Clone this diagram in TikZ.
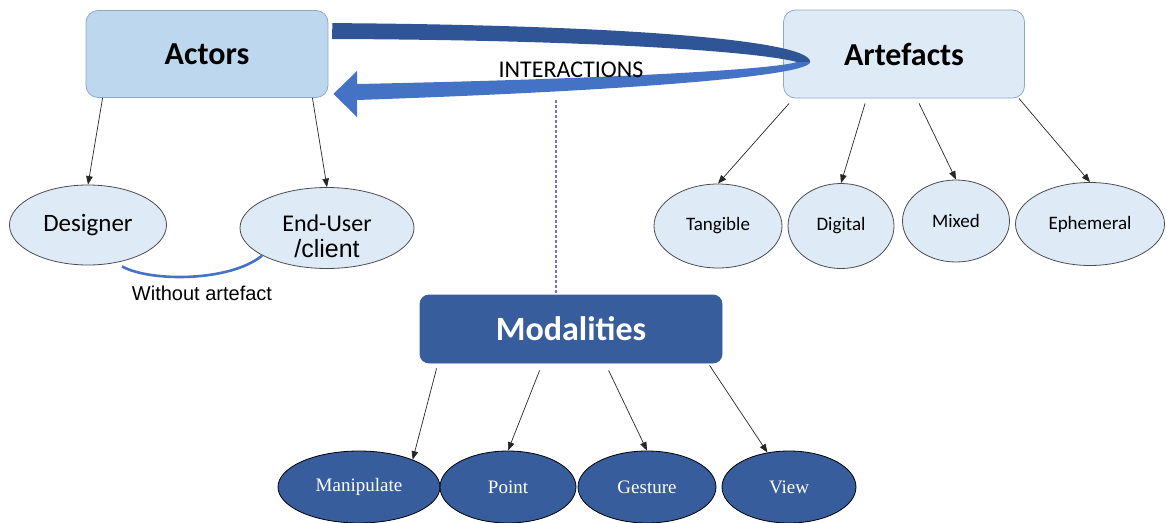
\documentclass[tikz,border=0pt]{standalone}
\usepackage{fontspec}
\setmainfont{Carlito}
\newfontfamily\arialfont{Liberation Sans}
\newfontfamily\timesfont{Liberation Serif}
\usepackage{xcolor}
\usetikzlibrary{arrows.meta,positioning,calc,shapes.geometric}
\definecolor{actfill}{HTML}{BDD7EE}
\definecolor{artfill}{HTML}{DEEBF7}
\definecolor{boxline}{HTML}{8EAACB}
\definecolor{moddark}{HTML}{385D9C}
\definecolor{banddark}{HTML}{2F5597}
\definecolor{bandlight}{HTML}{4472C4}
\definecolor{dashline}{HTML}{7070D8}

\begin{document}
\begin{tikzpicture}[x=1pt,y=-1pt,
	topbox/.style={draw=boxline,line width=0.8pt,rounded corners=12pt,inner sep=0pt,font=\fontsize{32}{38}\selectfont\bfseries},
	leaf/.style={ellipse,draw=black!70,fill=artfill,line width=0.8pt,inner sep=0pt,font=\fontsize{19}{23}\selectfont},
	modleaf/.style={ellipse,draw=black,fill=moddark,line width=0.8pt,inner sep=0pt,text=white,font=\timesfont\fontsize{19}{23}\selectfont},
	arr/.style={-{Triangle[length=8.5pt,width=6.5pt]},line width=0.7pt,black!85}]
	\useasboundingbox (0,0) rectangle (1167,522);
	
	% main boxes
	\node[topbox,fill=actfill,minimum width=242pt,minimum height=87pt] (actors) at (207,54) {Actors};
	\node[topbox,fill=artfill,minimum width=241pt,minimum height=88pt] (artefacts) at (904,54) {Artefacts};
	\node[topbox,draw=moddark,fill=moddark,text=white,rounded corners=9pt,minimum width=302pt,minimum height=68pt,font=\fontsize{34}{40}\selectfont\bfseries] (modalities) at (571,329) {Modalities};
	
	% actors
	\node[leaf,minimum width=157pt,minimum height=80pt,font=\fontsize{25}{29}\selectfont] (designer) at (88,225) {Designer};
	\node[leaf,minimum width=174pt,minimum height=81pt] (enduser) at (327,228) {};
	\node[align=center,inner sep=0pt] (enduserlabel) at (327,236) {\fontsize{24}{24}\selectfont End-User\\[7pt]{\arialfont\fontsize{25}{25}\selectfont /client}};
	
	% artefacts
	\node[leaf,minimum width=128pt,minimum height=84pt] (tangible) at (718,226) {Tangible};
	\node[leaf,minimum width=106pt,minimum height=85pt] (digital) at (841,226) {Digital};
	\node[leaf,minimum width=107pt,minimum height=82pt] (mixed) at (956,221) {Mixed};
	\node[leaf,minimum width=149pt,minimum height=83pt] (ephemeral) at (1090,224) {Ephemeral};
	
	% modalities
	\node[modleaf,minimum width=162pt,minimum height=72pt] (manipulate) at (359,487) {Manipulate};
	\node[modleaf,minimum width=136pt,minimum height=72pt] (point) at (508,487) {Point};
	\node[modleaf,minimum width=138pt,minimum height=72pt] (gesture) at (647,487) {Gesture};
	\node[modleaf,minimum width=134pt,minimum height=72pt] (view) at (789,487) {View};
	
	% interaction loop
	\coordinate (start) at ($(actors.north east)+(4,13)$);
	\coordinate (loop) at ($(artefacts.west)+(27,8)$);
	\coordinate (tip) at ($(actors.south east)+(5,-4)$);
	\fill[banddark] (start) .. controls (620,25) and (811,40) .. (loop) -- (797,62) .. controls (760,52) and (600,40) .. (332,39) -- cycle;
	\fill[bandlight] (loop) .. controls (810,75) and (650,90) .. (357,100) -- (357,117) -- (tip) -- (357,71) -- (357,84) .. controls (650,78) and (780,68) .. (797,62) -- cycle;
	\node[font=\fontsize{24}{28}\selectfont] (interactions) at (571,70) {INTERACTIONS};
	
	\coordinate (inter) at (556,100);
	\draw[dashline,line width=1.1pt,dash pattern=on 3pt off 2pt] (inter) -- (inter |- modalities.north);
	
	% arrows
	\draw[arr] ([xshift=17pt]actors.south west) -- (designer.north);
	\draw[arr] ([xshift=-16pt]actors.south east) -- (enduser.north);
	\draw[arr] ([xshift=6pt,yshift=-5pt]artefacts.south west) -- (tangible.north);
	\draw[arr] ([xshift=82pt,yshift=-5pt]artefacts.south west) -- (digital.north);
	\draw[arr] ([xshift=136pt,yshift=-5pt]artefacts.south west) -- (mixed.north);
	\draw[arr] ([xshift=-6pt]artefacts.south east) -- (ephemeral.north);
	\draw[arr] ([xshift=17pt,yshift=-5pt]modalities.south west) -- (manipulate.27);
	\draw[arr] ([xshift=120pt,yshift=-7pt]modalities.south west) -- (point.north);
	\draw[arr] ([xshift=189pt,yshift=-7pt]modalities.south west) -- (gesture.north);
	\draw[arr] ([xshift=290pt,yshift=-2pt]modalities.south west) -- (view.122);
	
	% without artefact
	\draw[bandlight,line width=2.6pt] ($(designer.south)+(34,1)$) .. controls (150,282) and (230,282) .. (enduser.-157);
	\node[font=\arialfont\fontsize{20}{24}\selectfont] (without) at (202,293) {Without artefact};
\end{tikzpicture}
\end{document}
